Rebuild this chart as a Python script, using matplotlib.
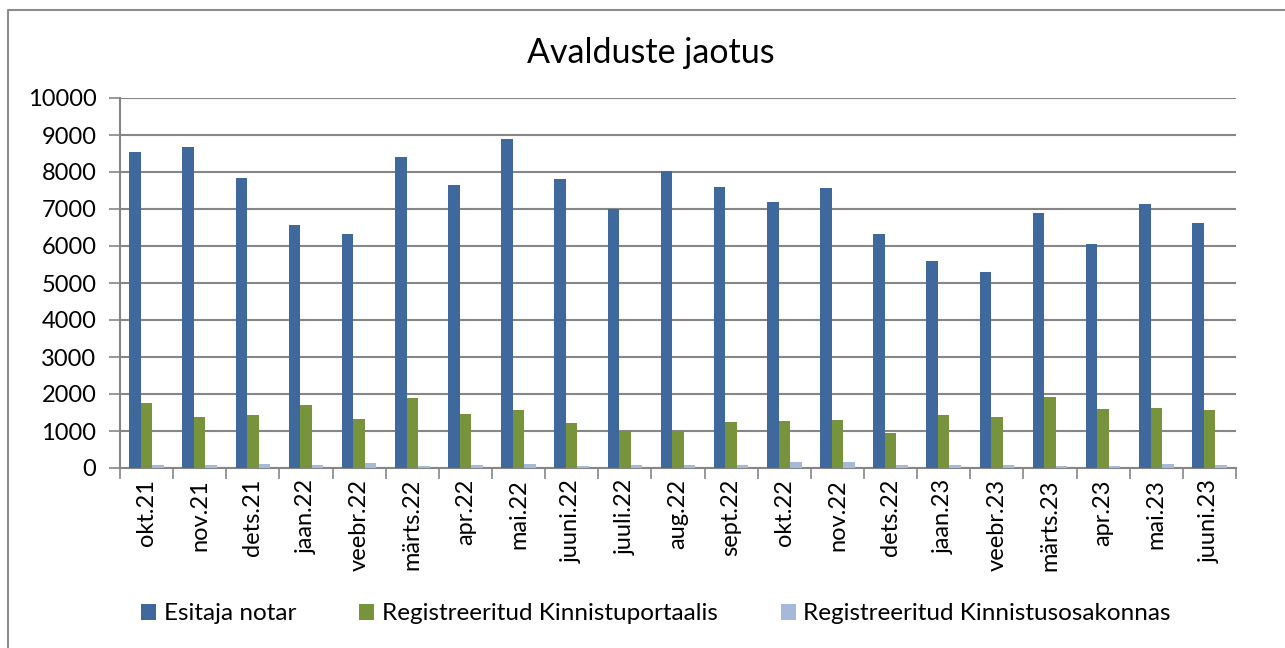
import matplotlib
matplotlib.use("Agg")
import matplotlib.pyplot as plt
import numpy as np
from matplotlib.lines import Line2D

months = ["okt.21", "nov.21", "dets.21", "jaan.22", "veebr.22", "märts.22", "apr.22",
          "mai.22", "juuni.22", "juuli.22", "aug.22", "sept.22", "okt.22", "nov.22",
          "dets.22", "jaan.23", "veebr.23", "märts.23", "apr.23", "mai.23", "juuni.23"]
esitaja_notar = [8530, 8685, 7830, 6565, 6330, 8415, 7640, 8890, 7820, 7000, 8035,
                 7595, 7185, 7560, 6325, 5605, 5305, 6890, 6045, 7140, 6610]
kinnistuportaal = [1747, 1376, 1439, 1701, 1312, 1900, 1448, 1575, 1213, 995, 995,
                   1240, 1258, 1294, 959, 1439, 1366, 1928, 1602, 1620, 1566]
kinnistusosakond = [72, 72, 108, 72, 136, 54, 72, 100, 54, 72, 72,
                    72, 154, 154, 72, 72, 72, 63, 63, 100, 72]
series_names = ["Esitaja notar", "Registreeritud Kinnistuportaalis",
                "Registreeritud Kinnistusosakonnas"]
colors = ["#3F699D", "#77933C", "#A7B9D9"]
yticks = [0, 1000, 2000, 3000, 4000, 5000, 6000, 7000, 8000, 9000, 10000]

plt.rcParams['font.family'] = ['Lato', 'DejaVu Sans']

W, H = 1285, 648
fig = plt.figure(figsize=(W / 100, H / 100), dpi=100)
ax = fig.add_axes([120 / W, 1 - 468 / H, (1236 - 120) / W, (468 - 98) / H])

# outer border (left and top visible)
fig.lines.append(Line2D([8 / W, 8 / W, 1.0], [0.0, 1 - 9.5 / H, 1 - 9.5 / H],
                        transform=fig.transFigure, color="#8C8C8C", linewidth=1.5))

x = np.arange(len(months))
bw = 0.217
for i, (vals, c, name) in enumerate(zip([esitaja_notar, kinnistuportaal, kinnistusosakond],
                                        colors, series_names)):
    ax.bar(x + (i - 1) * bw, vals, width=bw, color=c, label=name, zorder=3)

ax.set_xlim(-0.5, len(months) - 0.5)
ax.set_ylim(0, 10000)
ax.set_yticks(yticks)
ax.set_yticklabels([str(v) for v in yticks], fontsize=17)
ax.yaxis.grid(True, color="#868686", linewidth=1.5, zorder=0)
ax.set_axisbelow(True)

ax.set_xticks(np.arange(-0.5, len(months), 1.0))
ax.set_xticklabels([])
ax.set_xticks(x, minor=True)
ax.set_xticklabels(months, minor=True, rotation=90, fontsize=17)
ax.tick_params(axis="x", which="minor", length=0, pad=8)
ax.tick_params(axis="x", which="major", length=8, width=1.2, color="#868686", direction="out")
ax.tick_params(axis="y", length=8, width=1.2, color="#868686", direction="out", pad=9)

for s in ["top", "right"]:
    ax.spines[s].set_visible(False)
for s in ["left", "bottom"]:
    ax.spines[s].set_color("#868686")
    ax.spines[s].set_linewidth(1.5)

fig.text(651 / W, 1 - 53 / H, "Avalduste jaotus", ha="center", va="center", fontsize=24.5)

handles, labels = ax.get_legend_handles_labels()
fig.legend(handles, labels, loc="center", bbox_to_anchor=(656 / W, 1 - 614 / H),
           ncol=3, frameon=False, fontsize=17.5, handlelength=0.62, handleheight=0.62,
           handletextpad=0.3, columnspacing=2.6)

fig.savefig("out.png", dpi=100)
